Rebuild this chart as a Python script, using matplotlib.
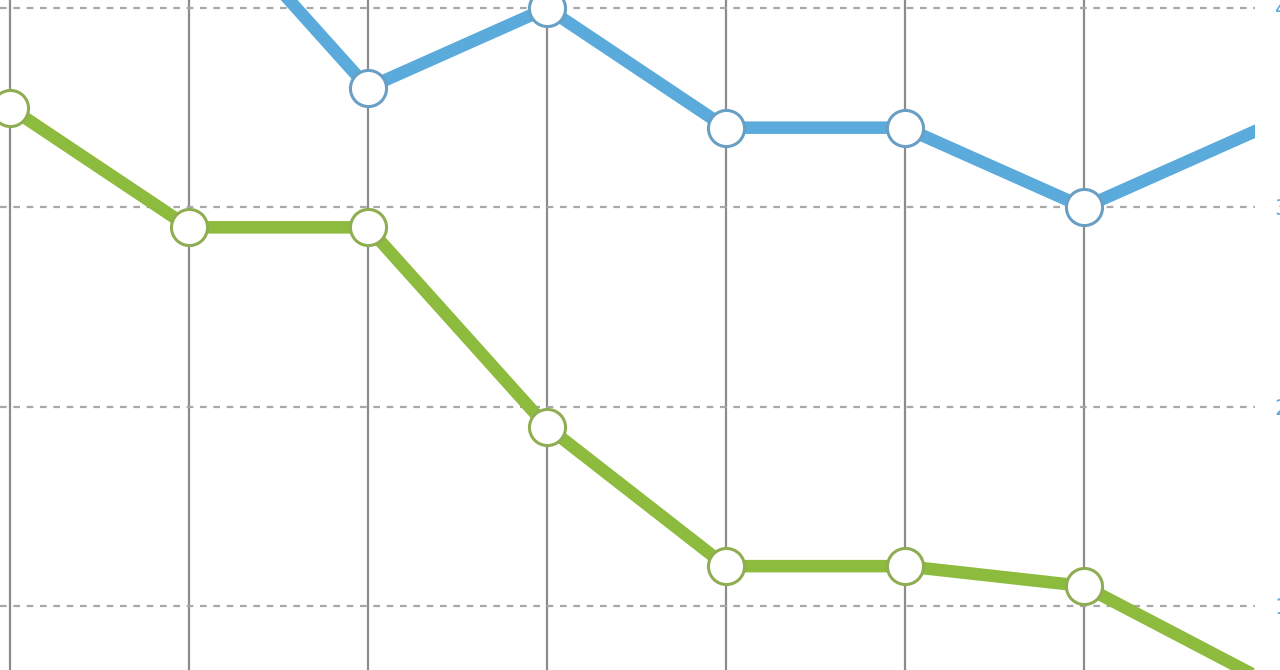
import numpy as np
import matplotlib
matplotlib.use("Agg")
import matplotlib.pyplot as plt
import matplotlib.ticker as tck

categories = list(range(8))
blue_values = [np.nan, 46, 36, 40, 34, 34, 30, 34]
green_values = [35, 29, 29, 19, 12, 12, 11, 6.3]
ytick_values = [10, 20, 30, 40]

BLUE = "#5aaadb"
BLUE_EDGE = "#6a9fc4"
GREEN = "#8dbb3e"
GREEN_EDGE = "#8fad52"

W, H = 1280, 670
fig = plt.figure(figsize=(W / 100, H / 100), dpi=100)
ax = fig.add_axes([0, 0, 1255 / W, 1])

step = 179.0
ax.set_xlim(-10 / step, 1245 / step)
ppu = 19.93
ax.set_ylim(10 + (606 - 670) / ppu, 10 + 606 / ppu)

for s in ax.spines.values():
    s.set_visible(False)

# vertical grid lines at categories (first 7 are in view)
for c in categories[:7]:
    ax.axvline(c, color="#8c8c8c", lw=1.6, zorder=1)

# horizontal dotted grid
ax.yaxis.set_major_locator(tck.FixedLocator(ytick_values))
ax.grid(axis="y", color="#a8a8a8", lw=1.6, ls=(0, (3.0, 3.0)), zorder=1)
ax.set_xticks([])

# right-side tick labels, mostly cut off by the image edge
ax.yaxis.tick_right()
ax.tick_params(axis="y", length=0, pad=14, labelsize=16, labelcolor=BLUE)

# the last point sits past the plot edge, only its line segment shows
shown = list(range(7))
ax.plot(categories, blue_values, color=BLUE, lw=9, zorder=3,
        marker="o", ms=26, mfc="white", mec=BLUE_EDGE, mew=2.2,
        markevery=shown, solid_joinstyle="miter")
ax.plot(categories, green_values, color=GREEN, lw=9, zorder=3,
        marker="o", ms=26, mfc="white", mec=GREEN_EDGE, mew=2.2,
        markevery=shown, solid_joinstyle="miter")

fig.savefig("out.png", dpi=100)
